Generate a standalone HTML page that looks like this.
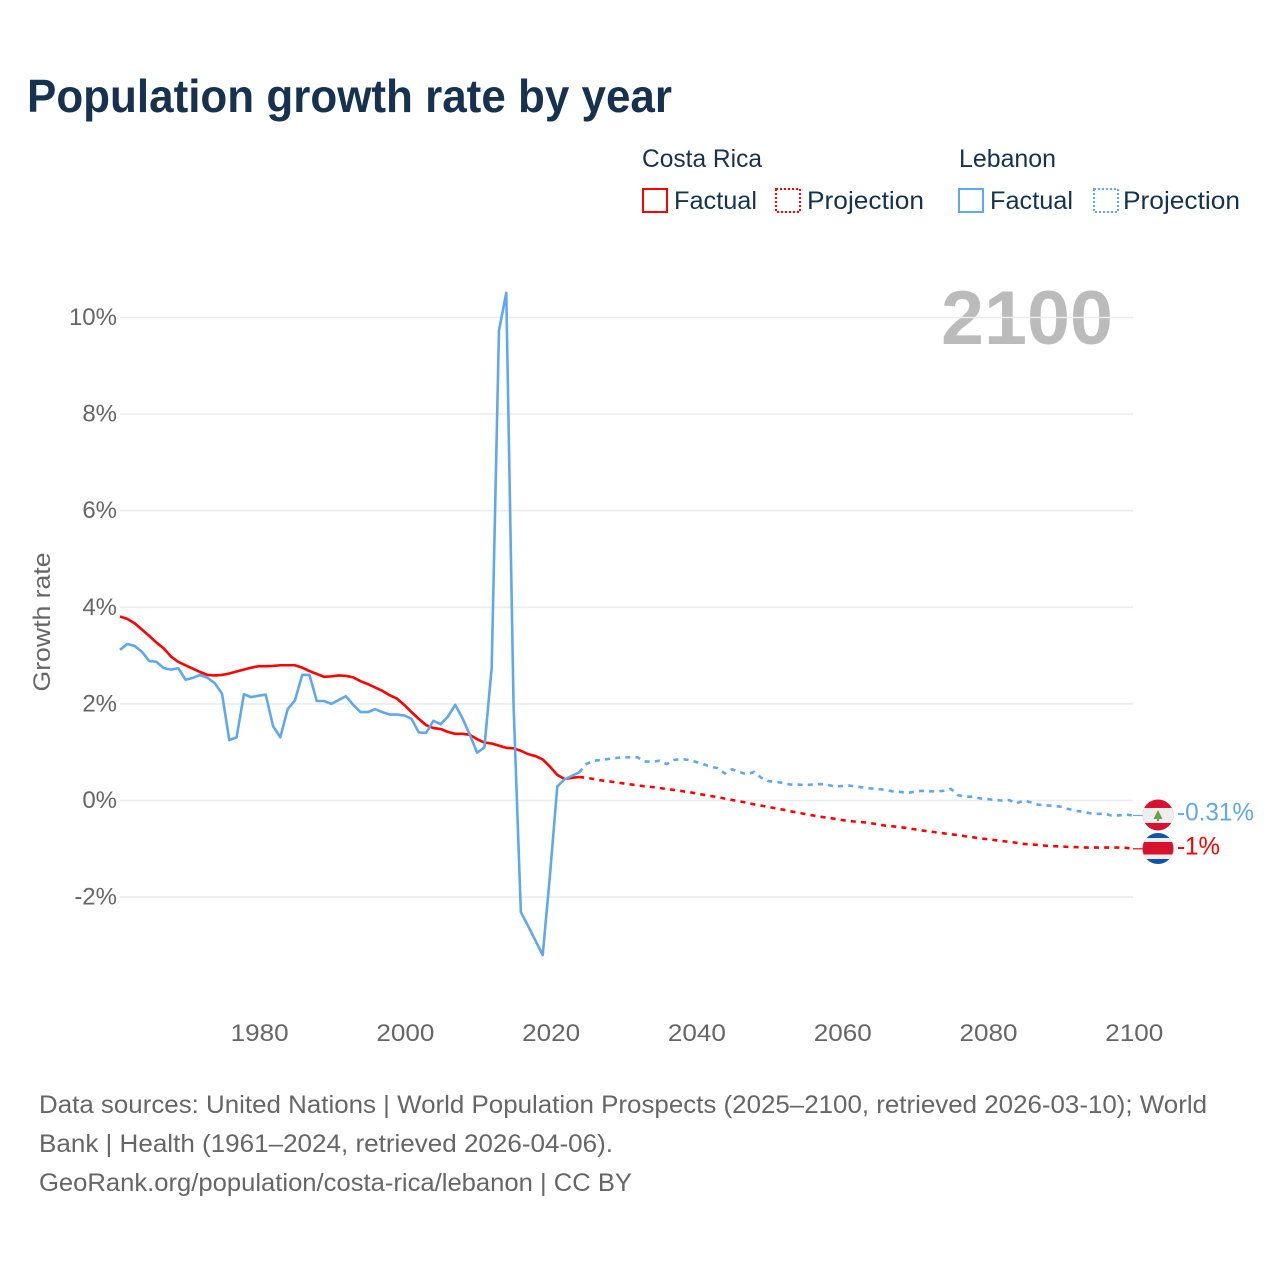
<!DOCTYPE html>
<html lang="en">
<head>
<meta charset="utf-8">
<title>Population growth rate by year</title>
<style>
html,body{margin:0;padding:0;background:#fff;}
svg{display:block;}
text{font-family:"Liberation Sans",sans-serif;}
.legend{font-size:25px;fill:#17324f;}
.tick{font-size:24px;fill:#666;}
.src{font-size:25px;fill:#666;}
</style>
</head>
<body>
<svg id="chart" xmlns="http://www.w3.org/2000/svg" width="1280" height="1280" viewBox="0 0 1280 1280">
  <rect width="1280" height="1280" fill="#fff"/>
  <text x="27" y="112" font-size="46" font-weight="700" fill="#17324f" textLength="645" lengthAdjust="spacingAndGlyphs">Population growth rate by year</text>

  <g>
    <text class="legend" x="642" y="167" textLength="120" lengthAdjust="spacingAndGlyphs">Costa Rica</text>
    <rect x="643" y="189" width="24" height="23" fill="none" stroke="#ff0000" stroke-width="2"/>
    <text class="legend" x="674" y="209" textLength="83" lengthAdjust="spacingAndGlyphs">Factual</text>
    <rect x="776" y="189" width="24" height="23" fill="none" stroke="#ff0000" stroke-width="2" stroke-dasharray="2 2"/>
    <text class="legend" x="807" y="209" textLength="117" lengthAdjust="spacingAndGlyphs">Projection</text>

    <text class="legend" x="959" y="167" textLength="97" lengthAdjust="spacingAndGlyphs">Lebanon</text>
    <rect x="959" y="189" width="24" height="23" fill="none" stroke="#5fa8ee" stroke-width="2"/>
    <text class="legend" x="990" y="209" textLength="83" lengthAdjust="spacingAndGlyphs">Factual</text>
    <rect x="1094" y="189" width="24" height="23" fill="none" stroke="#5fa8ee" stroke-width="2" stroke-dasharray="2 2"/>
    <text class="legend" x="1123" y="209" textLength="117" lengthAdjust="spacingAndGlyphs">Projection</text>
  </g>

  <text x="1113" y="344" text-anchor="end" font-size="76" font-weight="700" fill="#bbbbbb" textLength="172" lengthAdjust="spacingAndGlyphs">2100</text>

  <g id="grid"></g>
  <g id="yticks"></g>
  <g id="xticks"></g>
  <text transform="translate(50,622) rotate(-90)" text-anchor="middle" font-size="24" fill="#666" textLength="139" lengthAdjust="spacingAndGlyphs">Growth rate</text>

  <g id="series"></g>

  <defs>
    <clipPath id="clip-lb"><circle id="clip-lb-c" r="15.5"/></clipPath>
    <clipPath id="clip-cr"><circle id="clip-cr-c" r="15.5"/></clipPath>
  </defs>
  <g id="flag-lb" clip-path="url(#clip-lb)"></g>
  <g id="flag-cr" clip-path="url(#clip-cr)"></g>
  <g id="endlabels"></g>

  <g>
    <text class="src" x="39" y="1113" textLength="1168" lengthAdjust="spacingAndGlyphs">Data sources: United Nations | World Population Prospects (2025–2100, retrieved 2026-03-10); World</text>
    <text class="src" x="39" y="1152" textLength="574" lengthAdjust="spacingAndGlyphs">Bank | Health (1961–2024, retrieved 2026-04-06).</text>
    <text class="src" x="39" y="1191" textLength="593" lengthAdjust="spacingAndGlyphs">GeoRank.org/population/costa-rica/lebanon | CC BY</text>
  </g>
</svg>
<script>
const factualYears = [
  1961,1962,1963,1964,1965,1966,1967,1968,1969,1970,
  1971,1972,1973,1974,1975,1976,1977,1978,1979,1980,
  1981,1982,1983,1984,1985,1986,1987,1988,1989,1990,
  1991,1992,1993,1994,1995,1996,1997,1998,1999,2000,
  2001,2002,2003,2004,2005,2006,2007,2008,2009,2010,
  2011,2012,2013,2014,2015,2016,2017,2018,2019,2020,
  2021,2022,2023,2024];
const projectionYears = [
  2024,2025,2026,2027,2028,2029,2030,
  2031,2032,2033,2034,2035,2036,2037,2038,2039,2040,
  2041,2042,2043,2044,2045,2046,2047,2048,2049,2050,
  2051,2052,2053,2054,2055,2056,2057,2058,2059,2060,
  2061,2062,2063,2064,2065,2066,2067,2068,2069,2070,
  2071,2072,2073,2074,2075,2076,2077,2078,2079,2080,
  2081,2082,2083,2084,2085,2086,2087,2088,2089,2090,
  2091,2092,2093,2094,2095,2096,2097,2098,2099,2100];
const costaRicaFactual = [
  3.81,3.76,3.67,3.54,3.41,3.27,3.15,2.98,2.87,2.80,
  2.73,2.66,2.60,2.59,2.60,2.63,2.67,2.71,2.75,2.78,
  2.78,2.785,2.80,2.80,2.80,2.75,2.68,2.62,2.56,2.57,
  2.59,2.58,2.55,2.47,2.41,2.34,2.27,2.18,2.11,1.98,
  1.83,1.69,1.56,1.50,1.48,1.42,1.38,1.38,1.36,1.27,
  1.20,1.18,1.135,1.09,1.08,1.03,0.96,0.92,0.85,0.70,
  0.53,0.445,0.47,0.487];
const lebanonFactual = [
  3.12,3.24,3.20,3.08,2.89,2.87,2.74,2.71,2.74,2.50,
  2.54,2.60,2.54,2.43,2.21,1.25,1.31,2.20,2.14,2.17,
  2.19,1.54,1.31,1.89,2.07,2.60,2.60,2.06,2.06,2.00,
  2.08,2.16,1.98,1.83,1.83,1.89,1.83,1.78,1.78,1.76,
  1.69,1.41,1.40,1.65,1.58,1.74,1.98,1.70,1.36,0.99,
  1.10,2.75,9.73,10.51,1.98,-2.31,-2.6,-2.9,-3.2,-1.54,
  0.29,0.44,0.51,0.58];
const costaRicaProjection = [
  0.487,0.47,0.445,0.417,0.40,0.376,0.355,
  0.335,0.314,0.294,0.28,0.26,0.238,0.218,0.197,0.176,0.148,
  0.12,0.093,0.073,0.038,0.01,-0.017,-0.045,-0.08,-0.107,-0.135,
  -0.163,-0.19,-0.224,-0.25,-0.28,-0.307,-0.335,-0.355,-0.376,-0.403,
  -0.424,-0.438,-0.45,-0.47,-0.495,-0.52,-0.535,-0.55,-0.57,-0.595,
  -0.62,-0.64,-0.66,-0.68,-0.70,-0.715,-0.74,-0.76,-0.785,-0.80,
  -0.82,-0.84,-0.855,-0.875,-0.90,-0.91,-0.92,-0.935,-0.945,-0.95,
  -0.96,-0.965,-0.97,-0.975,-0.975,-0.975,-0.975,-0.975,-0.98,-1.0];
const lebanonProjection = [
  0.58,0.756,0.824,0.838,0.86,0.88,0.894,
  0.894,0.894,0.81,0.80,0.824,0.756,0.838,0.86,0.838,0.80,
  0.756,0.70,0.67,0.56,0.645,0.59,0.54,0.59,0.47,0.40,
  0.39,0.36,0.33,0.33,0.32,0.33,0.34,0.33,0.29,0.30,
  0.31,0.29,0.27,0.25,0.24,0.22,0.19,0.18,0.155,0.18,
  0.20,0.19,0.19,0.20,0.24,0.11,0.08,0.08,0.045,0.03,
  0.01,0.0,0.01,-0.06,0.0,-0.04,-0.086,-0.10,-0.11,-0.125,
  -0.17,-0.21,-0.23,-0.26,-0.28,-0.27,-0.31,-0.31,-0.29,-0.31];
const xTickYears = [1980,2000,2020,2040,2060,2080,2100];
const yTickValues = [10,8,6,4,2,0,-2];
const yTickLabels = ['10%','8%','6%','4%','2%','0%','-2%'];
const endLabels = ['-0.31%','-1%'];

const NS = 'http://www.w3.org/2000/svg';
const PLOT_LEFT = 120;
const PLOT_RIGHT = 1133;
function xScale(year) { return 120 + (year - 1961) * 7.288; }
function yScale(value) { return 800.5 - value * 48.3; }
function make(tag, attrs, parent) {
  const el = document.createElementNS(NS, tag);
  for (const k in attrs) el.setAttribute(k, attrs[k]);
  parent.appendChild(el);
  return el;
}
function pathFrom(years, values) {
  return values.map((v, i) => (i ? 'L' : 'M') + xScale(years[i]).toFixed(2) + ' ' + yScale(v).toFixed(2)).join(' ');
}

const grid = document.getElementById('grid');
const yticks = document.getElementById('yticks');
yTickValues.forEach((v, i) => {
  const line = make('line', {x1: PLOT_LEFT, x2: PLOT_RIGHT, y1: yScale(v), y2: yScale(v), stroke: '#ececec', 'stroke-width': 1.6}, grid);
  
  
  const t = make('text', {class: 'tick', x: 117, y: yScale(v) + 7.5, 'text-anchor': 'end'}, yticks);
  t.textContent = yTickLabels[i];
  
  
});
const xticks = document.getElementById('xticks');
xTickYears.forEach((y) => {
  const t = make('text', {class: 'tick', x: xScale(y) + 1.2, y: 1041, 'text-anchor': 'middle', textLength: 58, lengthAdjust: 'spacingAndGlyphs'}, xticks);
  t.textContent = String(y);
  
  
});

const series = document.getElementById('series');
const RED = '#ff0000';
const BLUE = '#5fa8ee';
const crFact = make('path', {d: pathFrom(factualYears, costaRicaFactual), fill: 'none', stroke: RED, 'stroke-width': 2.6, 'stroke-linejoin': 'round'}, series);


const crProj = make('path', {d: pathFrom(projectionYears, costaRicaProjection), fill: 'none', stroke: RED, 'stroke-width': 2.6, 'stroke-dasharray': '5 5.2'}, series);


const lbFact = make('path', {d: pathFrom(factualYears, lebanonFactual), fill: 'none', stroke: BLUE, 'stroke-width': 2.6, 'stroke-linejoin': 'round'}, series);


const lbProj = make('path', {d: pathFrom(projectionYears, lebanonProjection), fill: 'none', stroke: BLUE, 'stroke-width': 2.6, 'stroke-dasharray': '5 5.2'}, series);



const lbEnd = lebanonProjection[lebanonProjection.length - 1];
const crEnd = costaRicaProjection[costaRicaProjection.length - 1];
const lbY = yScale(lbEnd);
const crY = yScale(crEnd);
const lbConn = make('line', {x1: xScale(2100), x2: 1143, y1: lbY, y2: lbY, stroke: BLUE, 'stroke-width': 1.2}, series);


const crConn = make('line', {x1: xScale(2100), x2: 1143, y1: crY, y2: crY, stroke: RED, 'stroke-width': 1.2}, series);



const FX = 1158;
const lbC = lbY - 0.5;
const crC = crY - 0.3;
document.getElementById('clip-lb-c').setAttribute('cx', FX);
document.getElementById('clip-lb-c').setAttribute('cy', lbC);
document.getElementById('clip-cr-c').setAttribute('cx', FX);
document.getElementById('clip-cr-c').setAttribute('cy', crC);

const flagLb = document.getElementById('flag-lb');
make('rect', {x: FX - 16, y: lbC - 16, width: 32, height: 32, fill: '#d8112f'}, flagLb);
make('rect', {x: FX - 16, y: lbC - 7, width: 32, height: 15, fill: '#eeeeee'}, flagLb);
make('polygon', {points: [FX, lbC - 5, FX + 4.5, lbC + 4, FX + 1, lbC + 4, FX + 1, lbC + 6, FX - 1, lbC + 6, FX - 1, lbC + 4, FX - 4.5, lbC + 4].join(' '), fill: '#6f9f4b'}, flagLb);

const flagCr = document.getElementById('flag-cr');
make('rect', {x: FX - 16, y: crC - 16, width: 32, height: 32, fill: '#0b55ad'}, flagCr);
make('rect', {x: FX - 16, y: crC - 10.5, width: 32, height: 21, fill: '#eeeeee'}, flagCr);
make('rect', {x: FX - 16, y: crC - 6.5, width: 32, height: 12.5, fill: '#d8112f'}, flagCr);

const endGroup = document.getElementById('endlabels');
const lbLabel = make('text', {x: 1177, y: lbY + 5, 'font-size': 25, fill: BLUE, textLength: 77, lengthAdjust: 'spacingAndGlyphs'}, endGroup);
lbLabel.textContent = endLabels[0];


const crLabel = make('text', {x: 1177, y: crY + 5.5, 'font-size': 25, fill: RED, textLength: 43, lengthAdjust: 'spacingAndGlyphs'}, endGroup);
crLabel.textContent = endLabels[1];


</script>
</body>
</html>
